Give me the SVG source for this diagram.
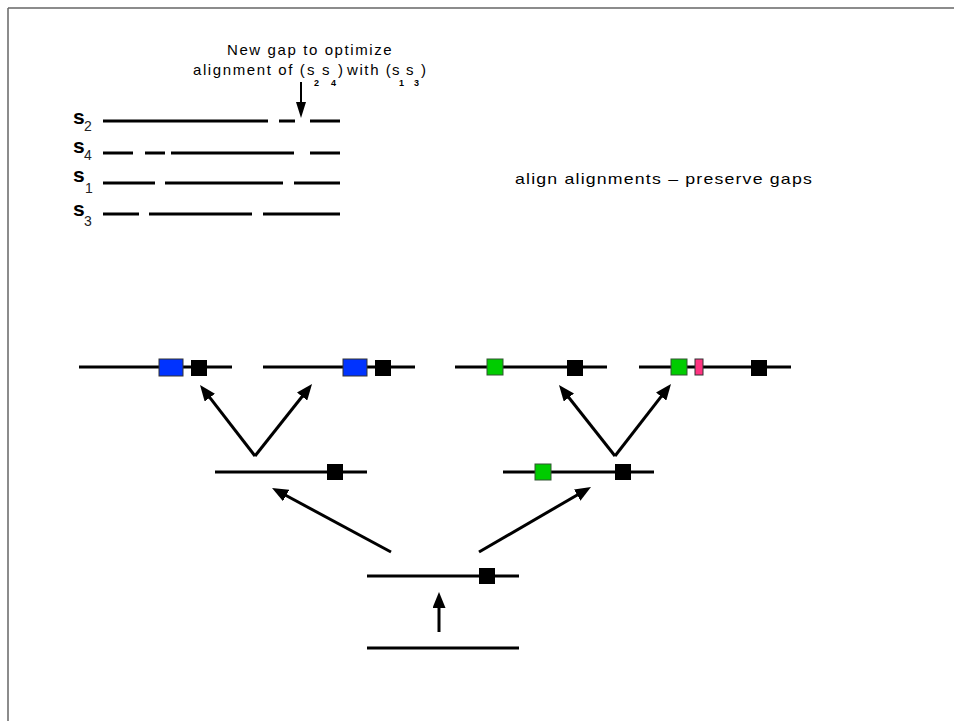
<svg xmlns="http://www.w3.org/2000/svg" width="954" height="721" viewBox="0 0 954 721">
<style>
.seq{stroke:#000;stroke-width:3;fill:none}
.lbl{font-family:"Liberation Sans",Arial,sans-serif;font-weight:bold;font-size:21px;fill:#000}
.sub{font-family:"Liberation Sans",Arial,sans-serif;font-size:14px;fill:#222}
.ann{font-family:"Liberation Sans",Arial,sans-serif;font-size:15px;letter-spacing:1.6px;fill:#000}
.asub{font-family:"Liberation Sans",Arial,sans-serif;font-size:9px;font-weight:bold;fill:#000}
.note{font-family:"Liberation Sans",Arial,sans-serif;font-size:15px;letter-spacing:1px;fill:#000}
.arr{stroke:#000;stroke-width:3;fill:none;marker-end:url(#ah)}
.blk{fill:#000}
.blue{fill:#0033ff;stroke:#333;stroke-width:1}
.green{fill:#00cc00;stroke:#335533;stroke-width:1}
.pink{fill:#ff3380;stroke:#333;stroke-width:1}
</style>
<defs>
<marker id="ah" markerUnits="userSpaceOnUse" markerWidth="16" markerHeight="13" refX="10" refY="6.5" orient="auto">
<path d="M0,0 L16,6.5 L0,13 z" fill="#000"/>
</marker>
<marker id="ahs" markerUnits="userSpaceOnUse" markerWidth="16" markerHeight="10" refX="10" refY="5" orient="auto">
<path d="M0,0 L16,5 L0,10 z" fill="#000"/>
</marker>
</defs>
<rect width="954" height="721" fill="#fff"/>
<g id="frame" stroke="#666" stroke-width="1.5" fill="none">
<line x1="8" y1="8" x2="954" y2="8"/>
<line x1="8" y1="8" x2="8" y2="721"/>
</g>

<g id="alignment">
<g id="s2">
<text class="lbl" x="73" y="124">s</text><text class="sub" x="84" y="131">2</text>
<path class="seq" d="M103,121 H268 M279,121 H295 M310,121 H340"/>
</g>
<g id="s4">
<text class="lbl" x="73" y="153">s</text><text class="sub" x="84" y="160">4</text>
<path class="seq" d="M103,153 H133 M145,153 H165 M171,153 H294 M310,153 H340"/>
</g>
<g id="s1">
<text class="lbl" x="73" y="182">s</text><text class="sub" x="85" y="193">1</text>
<path class="seq" d="M103,183 H155 M165,183 H283 M294,183 H340"/>
</g>
<g id="s3">
<text class="lbl" x="73" y="216">s</text><text class="sub" x="84" y="226">3</text>
<path class="seq" d="M103,214 H139 M149,214 H252 M263,214 H340"/>
</g>
</g>

<g id="annotation">
<text class="ann" x="227" y="55">New gap to optimize</text>
<text class="ann" x="193" y="75">alignment of (</text>
<text class="ann" x="307" y="75">s</text><text class="asub" x="314" y="86">2</text>
<text class="ann" x="322" y="75">s</text><text class="asub" x="331" y="86">4</text>
<text class="ann" x="338" y="75">)</text>
<text class="ann" x="347" y="75">with (</text>
<text class="ann" x="392" y="75">s</text><text class="asub" x="399" y="86">1</text>
<text class="ann" x="406" y="75">s</text><text class="asub" x="414" y="86">3</text>
<text class="ann" x="421" y="75">)</text>
</g>

<g id="caption">
<text class="note" x="515" y="184" textLength="298" lengthAdjust="spacingAndGlyphs">align alignments – preserve gaps</text>
</g>

<g id="leaf1">
<line class="seq" x1="79" y1="367" x2="232" y2="367"/>
<rect class="blue" x="159" y="359" width="24" height="17"/>
<rect class="blk" x="191" y="360" width="16" height="16"/>
</g>
<g id="leaf2">
<line class="seq" x1="263" y1="367" x2="415" y2="367"/>
<rect class="blue" x="343" y="359" width="24" height="17"/>
<rect class="blk" x="375" y="360" width="16" height="16"/>
</g>
<g id="leaf3">
<line class="seq" x1="455" y1="367" x2="607" y2="367"/>
<rect class="green" x="487" y="359" width="16" height="16"/>
<rect class="blk" x="567" y="360" width="16" height="16"/>
</g>
<g id="leaf4">
<line class="seq" x1="639" y1="367" x2="791" y2="367"/>
<rect class="green" x="671" y="359" width="16" height="16"/>
<rect class="pink" x="695" y="359" width="8" height="16"/>
<rect class="blk" x="751" y="360" width="16" height="16"/>
</g>
<g id="mid-left">
<line class="seq" x1="215" y1="472" x2="367" y2="472"/>
<rect class="blk" x="327" y="464" width="16" height="16"/>
</g>
<g id="mid-right">
<line class="seq" x1="503" y1="472" x2="654" y2="472"/>
<rect class="green" x="535" y="464" width="16" height="16"/>
<rect class="blk" x="615" y="464" width="16" height="16"/>
</g>
<g id="root">
<line class="seq" x1="367" y1="576" x2="519" y2="576"/>
<rect class="blk" x="479" y="568" width="16" height="16"/>
</g>
<g id="base">
<line class="seq" x1="367" y1="648" x2="519" y2="648"/>
</g>

<g id="connectors">
<line class="arr" x1="255" y1="456" x2="203.7" y2="389.7"/>
<line class="arr" x1="255" y1="456" x2="308.3" y2="388.7"/>
<line class="arr" x1="615" y1="456" x2="562.7" y2="389.7"/>
<line class="arr" x1="615" y1="456" x2="667.3" y2="388.7"/>
<line class="arr" x1="391" y1="552" x2="277.3" y2="490.8"/>
<line class="arr" x1="479" y1="552" x2="585.8" y2="490"/>
<line class="arr" x1="439" y1="632" x2="439" y2="598"/>
<line x1="301" y1="82" x2="301" y2="112" stroke="#000" stroke-width="2" marker-end="url(#ahs)"/>
</g>
</svg>
